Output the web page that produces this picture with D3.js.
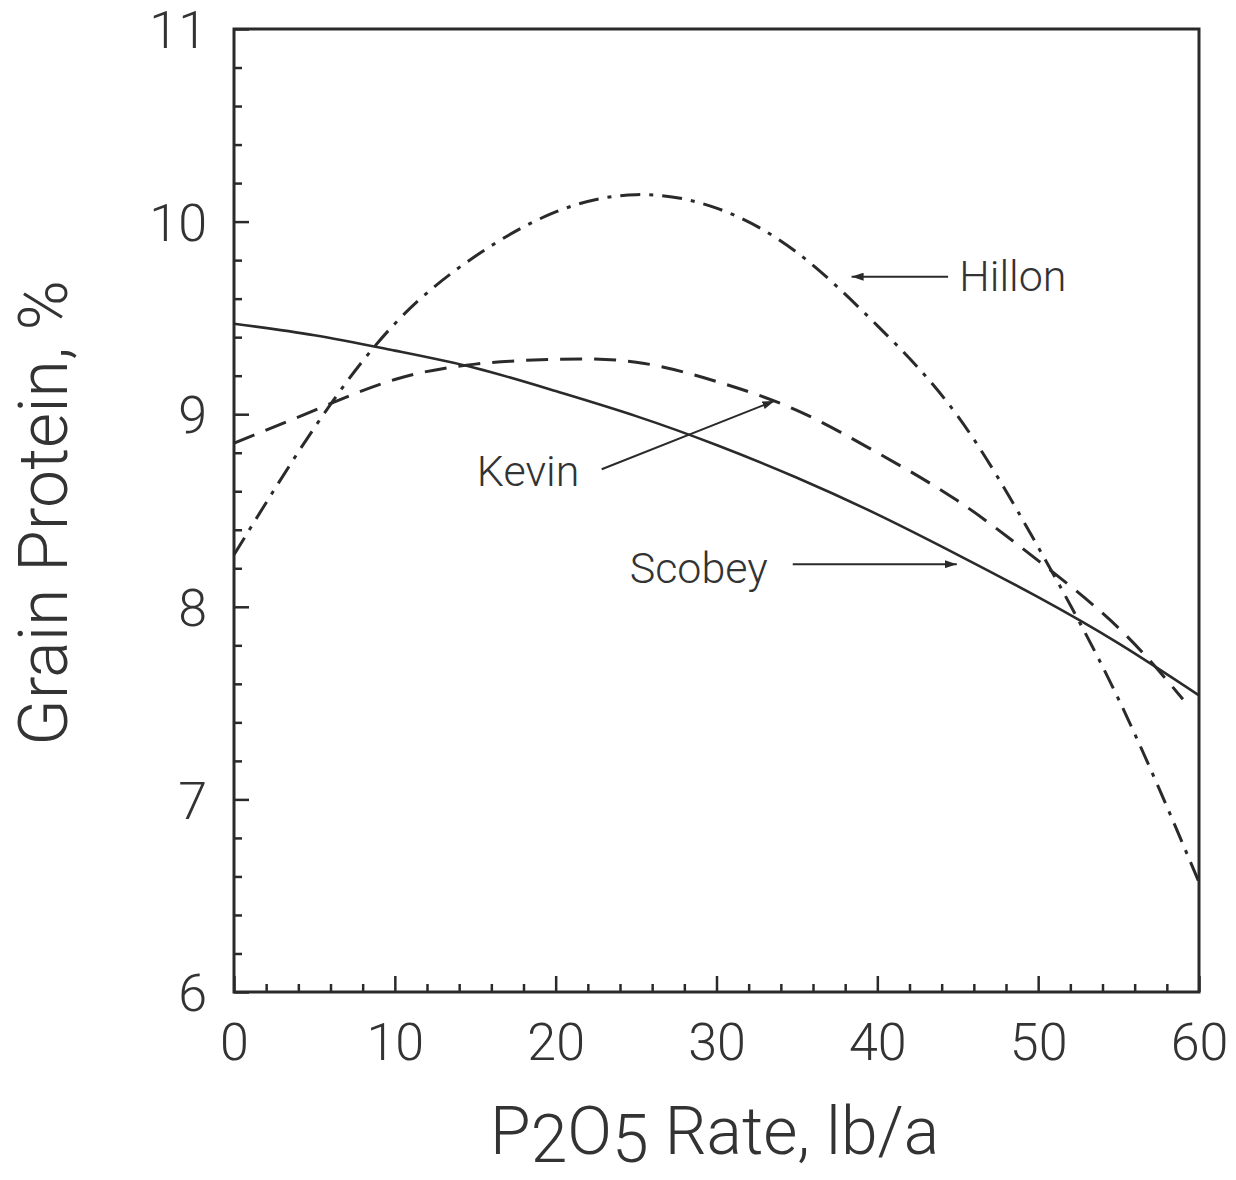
<!DOCTYPE html>
<html>
<head>
<meta charset="utf-8">
<script src="https://cdn.jsdelivr.net/npm/d3@7"></script>
<style>
  html, body { margin: 0; padding: 0; background: #fff; }
  svg { display: block; }
  text { font-family: Roboto, "Liberation Sans", Arial, sans-serif; font-weight: 300; fill: #333; }
</style>
</head>
<body>
<svg id="chart" width="1236" height="1180"></svg>
<script>
// ---- data ----
const rates = [0, 5, 10, 15, 20, 25, 30, 35, 40, 45, 50, 55, 60];
const scobey = [9.47, 9.41, 9.33, 9.24, 9.12, 8.99, 8.84, 8.67, 8.48, 8.27, 8.05, 7.81, 7.54];
const hillon = [8.27, 8.93, 9.47, 9.82, 10.05, 10.14, 10.07, 9.84, 9.46, 8.99, 8.31, 7.52, 6.57];
const kevinRates = [0, 5, 10, 15, 20, 25, 30, 35, 40, 45, 50, 55, 59];
const kevin = [8.85, 9.02, 9.18, 9.26, 9.285, 9.27, 9.17, 9.02, 8.80, 8.55, 8.24, 7.89, 7.52];

const xTicks = [0, 10, 20, 30, 40, 50, 60];
const yTicks = [6, 7, 8, 9, 10, 11];

// annotations in data units: label, text anchor point, arrow tail, arrow tip
const labels = ["Hillon", "Kevin", "Scobey"];
const labelPos = [[45.1, 9.64], [15.1, 8.627], [24.6, 8.125]];
const arrowFrom = [[44.4, 9.714], [22.86, 8.714], [34.74, 8.221]];
const arrowTo = [[38.4, 9.714], [33.6, 9.069], [44.94, 8.221]];

// ---- layout ----
const svg = d3.select("#chart");
const x = d3.scaleLinear().domain([0, 60]).range([234, 1199]);
const y = d3.scaleLinear().domain([6, 11]).range([992, 29]);
const ink = "#2a2a2a";

// minor ticks
const xMinor = d3.range(0, 61, 2).filter(v => v % 10 !== 0);
const yMinor = d3.range(6, 11.001, 0.2).map(v => +v.toFixed(1)).filter(v => Math.abs(v - Math.round(v)) > 1e-6);

const gx = svg.append("g").attr("transform", `translate(0,${y(6)})`);
gx.call(d3.axisBottom(x).tickValues(xTicks).tickSize(-16).tickPadding(0).tickFormat(d3.format("d")));
gx.call(g => g.selectAll(".tick text").attr("dy", null).attr("y", 68).style("font-size", "52px").attr("fill", "#333"));
const gxm = svg.append("g").attr("transform", `translate(0,${y(6)})`);
gxm.call(d3.axisBottom(x).tickValues(xMinor).tickSize(-8).tickFormat(""));

const gy = svg.append("g").attr("transform", `translate(${x(0)},0)`);
gy.call(d3.axisLeft(y).tickValues(yTicks).tickSize(-15).tickPadding(27).tickFormat(d3.format("d")));
gy.call(g => g.selectAll(".tick text").attr("dy", "0.36em").style("font-size", "52px").attr("fill", "#333"));
const gym = svg.append("g").attr("transform", `translate(${x(0)},0)`);
gym.call(d3.axisLeft(y).tickValues(yMinor).tickSize(-8).tickFormat(""));

svg.selectAll(".domain").remove();
svg.selectAll(".tick line").attr("stroke", ink).attr("stroke-width", 2.5);

// frame
svg.append("rect")
  .attr("x", x(0)).attr("y", y(11))
  .attr("width", x(60) - x(0)).attr("height", y(6) - y(11))
  .attr("fill", "none").attr("stroke", ink).attr("stroke-width", 3);

// curves
const line = d3.line().x(d => x(d[0])).y(d => y(d[1])).curve(d3.curveNatural);
const series = [
  { pts: d3.zip(rates, scobey), dash: null, w: 2.6 },
  { pts: d3.zip(kevinRates, kevin), dash: "22,12", w: 3 },
  { pts: d3.zip(rates, hillon), dash: "20,9,4,9", w: 3 }
];
svg.append("g").selectAll("path").data(series).join("path")
  .attr("d", d => line(d.pts))
  .attr("fill", "none")
  .attr("stroke", ink)
  .attr("stroke-width", d => d.w)
  .attr("stroke-dasharray", d => d.dash);

// arrow marker
svg.append("defs").append("marker")
  .attr("id", "arrow").attr("viewBox", "0 0 12 8")
  .attr("refX", 12).attr("refY", 4)
  .attr("markerWidth", 12).attr("markerHeight", 8)
  .attr("markerUnits", "userSpaceOnUse")
  .attr("orient", "auto")
  .append("path").attr("d", "M0,0 L12,4 L0,8 Z").attr("fill", ink);

svg.append("g").selectAll("line").data(labels).join("line")
  .attr("x1", (d, i) => x(arrowFrom[i][0])).attr("y1", (d, i) => y(arrowFrom[i][1]))
  .attr("x2", (d, i) => x(arrowTo[i][0])).attr("y2", (d, i) => y(arrowTo[i][1]))
  .attr("stroke", ink).attr("stroke-width", 2)
  .attr("marker-end", "url(#arrow)");

svg.append("g").selectAll("text").data(labels).join("text")
  .attr("x", (d, i) => x(labelPos[i][0])).attr("y", (d, i) => y(labelPos[i][1]))
  .style("font-size", "43px")
  .text(d => d);

// axis titles
const xt = svg.append("text")
  .attr("x", 490).attr("y", 1154)
  .style("font-size", "66px");
xt.append("tspan").text("P");
xt.append("tspan").attr("dy", 8).text("2");
xt.append("tspan").attr("dy", -8).text("O");
xt.append("tspan").attr("dy", 8).text("5");
xt.append("tspan").attr("dy", -8).text(" Rate, lb/a");

svg.append("text")
  .attr("transform", "translate(67,513) rotate(-90)")
  .attr("text-anchor", "middle")
  .style("font-size", "68px")
  .text("Grain Protein, %");
</script>
</body>
</html>
